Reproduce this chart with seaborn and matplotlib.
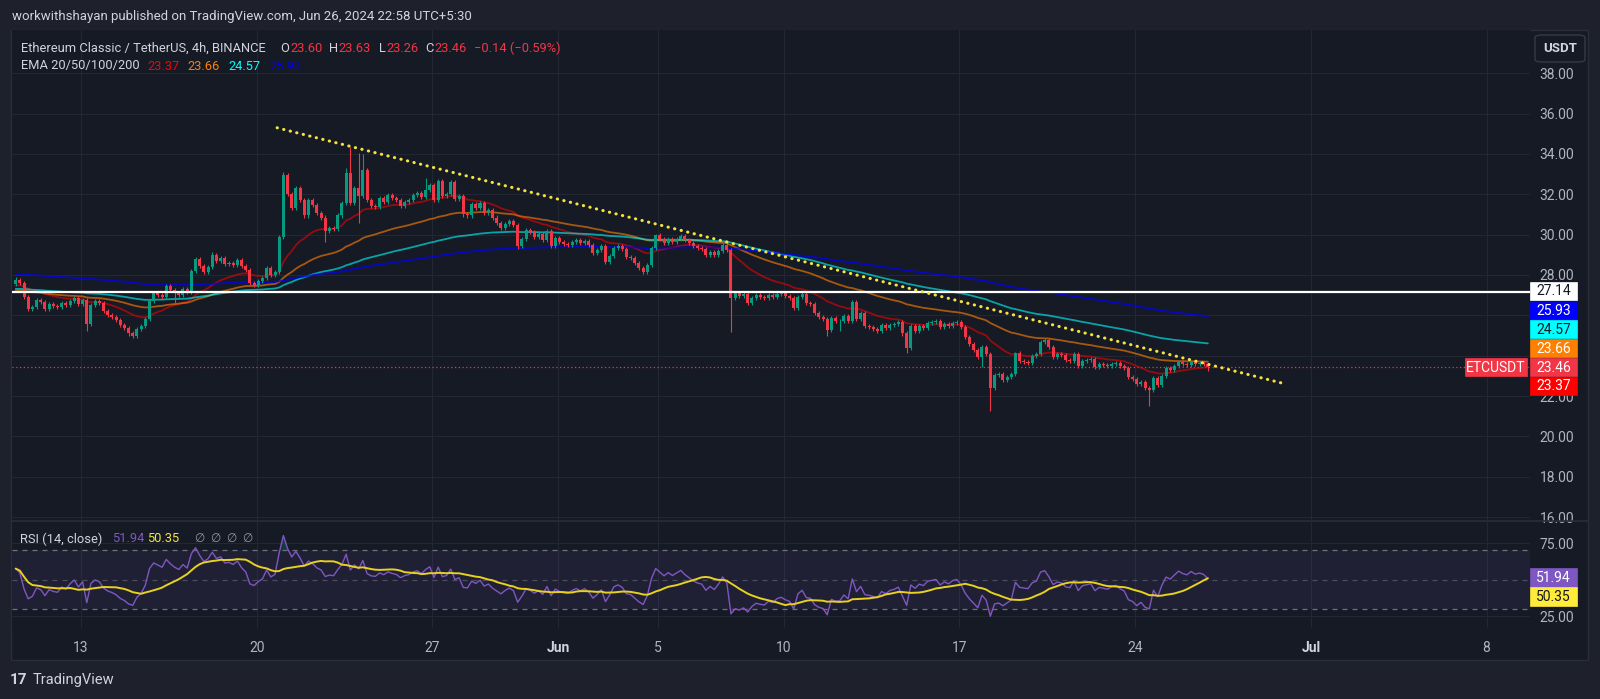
import numpy as np
import pandas as pd
import matplotlib.pyplot as plt
import seaborn as sns
from matplotlib.patches import Rectangle, FancyBboxPatch
from matplotlib.lines import Line2D

# ETC/USDT 4h candles (Binance), time zone UTC+5:30
first_bar = "2024-05-10 09:30"
first_open = 27.55
closes = [
    27.75, 27.6, 26.9, 26.3, 26.4, 26.75, 26.65, 26.3, 26.55, 26.45, 26.4, 26.6,
    26.5, 26.7, 26.85, 26.55, 26.75, 25.55, 26.5, 26.7, 26.6, 26.2, 26.0, 25.9,
    25.75, 25.5, 25.35, 25.1, 25.0, 25.3, 25.45, 25.8, 26.7, 27.1, 27.0, 26.9,
    27.45, 27.25, 27.1, 27.0, 27.3, 27.15, 28.2, 28.8, 28.45, 28.15, 28.4, 29.0,
    28.7, 28.85, 28.55, 28.6, 28.5, 28.75, 28.45, 28.25, 27.6, 27.5, 27.7, 27.85,
    28.35, 28.0, 28.15, 29.9, 32.95, 32.0, 31.3, 32.3, 31.7, 30.95, 31.7, 31.45,
    31.05, 30.85, 30.2, 30.35, 30.3, 30.95, 31.55, 33.05, 31.55, 32.3, 31.9, 33.2,
    31.7, 31.4, 31.35, 31.8, 31.6, 31.95, 31.8, 31.7, 31.4, 31.6, 31.7, 31.95,
    32.05, 31.85, 32.2, 32.45, 31.7, 32.65, 31.9, 32.0, 32.6, 31.75, 31.9, 31.0,
    30.95, 31.5, 31.3, 31.55, 31.05, 31.2, 30.85, 30.6, 30.35, 30.55, 30.7, 30.5,
    29.45, 29.8, 30.25, 30.15, 29.9, 30.05, 29.75, 30.2, 29.45, 29.85, 29.65, 29.55,
    29.5, 29.65, 29.75, 29.6, 29.7, 29.5, 29.1, 29.25, 29.45, 28.65, 28.95, 29.35,
    29.45, 29.3, 28.9, 28.85, 28.6, 28.35, 28.15, 28.5, 29.35, 30.0, 29.8, 29.6,
    29.8, 29.65, 29.8, 29.95, 29.75, 29.6, 29.45, 29.35, 29.3, 29.0, 29.15, 29.0,
    29.2, 29.5, 29.25, 26.85, 27.1, 26.95, 27.05, 26.6, 26.85, 27.0, 26.9, 26.85,
    27.0, 26.9, 27.05, 27.1, 26.95, 26.85, 26.35, 26.9, 27.05, 26.6, 26.55, 26.1,
    25.9, 25.8, 25.25, 25.85, 25.7, 25.72, 25.95, 25.7, 26.65, 25.8, 26.1, 25.45,
    25.4, 25.3, 25.2, 25.5, 25.35, 25.5, 25.55, 25.65, 25.1, 24.4, 25.45, 25.2,
    25.45, 25.35, 25.6, 25.65, 25.7, 25.4, 25.55, 25.45, 25.6, 25.65, 25.4, 24.95,
    24.6, 24.3, 23.95, 24.45, 24.1, 22.4, 23.05, 23.1, 22.8, 22.95, 23.1, 24.15,
    23.75, 23.7, 23.65, 24.0, 24.1, 24.7, 24.8, 24.45, 23.95, 24.1, 24.05, 23.8,
    23.75, 24.1, 23.5, 23.75, 23.8, 23.85, 23.45, 23.6, 23.55, 23.5, 23.6, 23.65,
    23.5, 23.4, 22.95, 22.85, 22.6, 22.7, 22.4, 22.3, 22.9, 22.55, 23.0, 23.4,
    23.3, 23.5, 23.7, 23.6, 23.55, 23.7, 23.6, 23.65, 23.6, 23.46,
]
# notable wick extremes, by candle index
spike_high = {0: 27.9, 42: 28.3, 47: 29.15, 63: 30.0, 64: 33.1, 79: 33.3, 80: 34.35,
              82: 34.05, 83: 34.0, 98: 32.8, 101: 32.75, 104: 32.7, 153: 30.05,
              172: 27.2, 200: 26.75, 214: 25.55, 239: 24.2, 246: 24.9, 285: 23.63}
spike_low = {17: 25.2, 38: 26.6, 74: 29.65, 82: 30.6, 120: 29.3, 171: 25.15, 194: 25.0,
             197: 25.2, 213: 24.15, 231: 23.45, 233: 21.25, 271: 21.5, 285: 23.26}

ema_periods = [20, 50, 100, 200]
ema_start = [27.45, 27.2, 27.3, 28.05]
ema_values = ["23.37", "23.66", "24.57", "25.93"]
ema_colors = ["#ff0000", "#ff7f00", "#00ffff", "#0000ff"]
rsi_start_gain, rsi_start_loss = 0.12, 0.10
rsi_value, rsi_ma_value = "51.94", "50.35"

support_level = 27.14
last_price = 23.46
trend_times = ["2024-05-20 19:30", "2024-06-30 01:00"]
trend_prices = [35.3, 22.58]

day_ticks = ["2024-05-13", "2024-05-20", "2024-05-27", "2024-06-01", "2024-06-05",
             "2024-06-10", "2024-06-17", "2024-06-24", "2024-07-01", "2024-07-08"]
day_labels = ["13", "20", "27", "Jun", "5", "10", "17", "24", "Jul", "8"]
price_ticks = list(range(16, 40, 2))
hidden_ticks = [24, 26]  # covered by the value labels on the scale

# ---- derived series ----
base = pd.Timestamp("2024-05-13")
def to_days(t):
    return (pd.to_datetime(t) - base) / pd.Timedelta(days=1)

c = np.array(closes)
o = np.r_[first_open, c[:-1]]
times = pd.date_range(first_bar, periods=len(c), freq="4h")
days = np.asarray(to_days(times))
hi = np.maximum(o, c) + 0.1
lo = np.minimum(o, c) - 0.1
for k, v in spike_high.items():
    hi[k] = v
for k, v in spike_low.items():
    lo[k] = v

emas = []
for n, seed in zip(ema_periods, ema_start):
    a = 2 / (n + 1)
    e, out = seed, []
    for v in c:
        e = e + a * (v - e)
        out.append(e)
    emas.append(np.array(out))

diff = c - o
ag, al, rsi = rsi_start_gain, rsi_start_loss, []
for d in diff:
    ag = (ag * 13 + max(d, 0)) / 14
    al = (al * 13 + max(-d, 0)) / 14
    rsi.append(100 - 100 / (1 + ag / al))
rsi = np.array(rsi)
rsi_ma = pd.Series(rsi).rolling(14, min_periods=1).mean().to_numpy()

# ---- styling ----
W, H = 1600, 699
OUTER, INNER, BORDER, GRID = "#1e212c", "#161a25", "#2a2e39", "#232733"
TXT, AXT = "#d1d4dc", "#b2b5be"
UP, DOWN = "#089981", "#f23645"

sns.set_theme(style="dark")
plt.rcParams["font.family"] = ["Roboto", "DejaVu Sans"]

def fx(px):
    return px / W

def fy(py):
    return 1 - py / H

fig = plt.figure(figsize=(16, 6.99), dpi=100, facecolor=OUTER)
fig.add_artist(Rectangle((fx(11), fy(660)), (1588 - 11) / W, (660 - 30) / H,
                         transform=fig.transFigure, facecolor=INNER,
                         edgecolor=BORDER, lw=1, zorder=-5))

ax = fig.add_axes([fx(12), fy(520), (1530 - 12) / W, (520 - 30) / H])
ax2 = fig.add_axes([fx(12), fy(628), (1530 - 12) / W, (628 - 521) / H])
xmin, xmax = -2.75, 57.73
tick_days = to_days(day_ticks)

for a_ in (ax, ax2):
    a_.set_facecolor(INNER)
    for s in a_.spines.values():
        s.set_visible(False)
    a_.set_xlim(xmin, xmax)
    a_.set_xticks(tick_days)
    a_.grid(True, color=GRID, lw=0.8)
    a_.yaxis.tick_right()
    a_.tick_params(axis="both", length=0, labelcolor=AXT, labelsize=10)
    a_.tick_params(axis="y", pad=7)

# main pane
ax.set_ylim(15.853, 40.147)
ax.set_yticks(price_ticks)
ax.set_yticklabels(["" if v in hidden_ticks else f"{v:.2f}" for v in price_ticks])
ax.set_xticklabels([])
ax.set_xlabel("")

for e, col, al_ in zip(emas, ema_colors, [0.55, 0.62, 0.6, 0.72]):
    sns.lineplot(x=days, y=e, ax=ax, color=col, lw=1.3, alpha=al_, zorder=2)

cols = np.where(c >= o, UP, DOWN)
ax.vlines(days, lo, hi, colors=cols, lw=0.8, zorder=3)
body = np.maximum(np.abs(c - o), 0.03)
ax.bar(days, body, bottom=np.minimum(o, c), width=0.12, color=cols, lw=0, zorder=4)

ax.axhline(support_level, color="white", lw=1.6, zorder=5)
ax.axhline(last_price, color=DOWN, lw=0.9, ls=(0, (1, 2)), zorder=1)
sns.lineplot(x=to_days(trend_times), y=trend_prices, ax=ax, color="#f5e43d",
             lw=2.2, zorder=6, dash_capstyle="round")
ax.lines[-1].set_linestyle((0, (0.1, 2.1)))
ax.set_ylabel("")

# RSI pane
ax2.set_ylim(16.8, 90.1)
ax2.set_yticks([25, 75])
ax2.set_yticklabels(["25.00", "75.00"])
ax2.set_xticklabels(day_labels)
ax2.tick_params(axis="x", pad=9)
for lab in ax2.get_xticklabels():
    if lab.get_text() in ("Jun", "Jul"):
        lab.set_color(TXT)
        lab.set_fontweight("bold")
ax2.axhspan(30, 70, color="#7e57c2", alpha=0.1, lw=0)
for lvl, a_ in ((70, 0.9), (50, 0.5), (30, 0.9)):
    ax2.axhline(lvl, color="#787b86", lw=0.9, ls=(0, (4, 4)), alpha=a_)
ax2.fill_between(days, 70, rsi, where=rsi > 70, color=UP, alpha=0.25, lw=0,
                 interpolate=True)
ax2.fill_between(days, 30, rsi, where=rsi < 30, color=DOWN, alpha=0.2, lw=0,
                 interpolate=True)
sns.lineplot(x=days, y=rsi, ax=ax2, color="#7e57c2", lw=1.0, zorder=3)
sns.lineplot(x=days, y=rsi_ma, ax=ax2, color="#e9d21f", lw=1.4, zorder=4)
ax2.set_ylabel("")

fig.add_artist(Line2D([fx(11), fx(1588)], [fy(520.5)] * 2, color=BORDER, lw=1.2,
                      transform=fig.transFigure))

# ---- texts ----
def ftext(x, y, s, color=TXT, size=9.3, **kw):
    fig.text(fx(x), fy(y), s, color=color, fontsize=size, va="center", **kw)

ftext(11.5, 16.5, "workwithshayan published on TradingView.com, Jun 26, 2024 22:58 UTC+5:30",
      size=9.5)
ftext(21, 48, "Ethereum Classic / TetherUS, 4h, BINANCE")
for x, s, col in [(280.5, "O", TXT), (290, "23.60", DOWN), (329, "H", TXT), (338.5, "23.63", DOWN),
                  (379, "L", TXT), (386.5, "23.26", DOWN), (425.5, "C", TXT), (434.5, "23.46", DOWN),
                  (474.5, "\u22120.14 (\u22120.59%)", DOWN)]:
    ftext(x, 48, s, col)
ftext(21, 66, "EMA 20/50/100/200")
for x, s, col in zip([147, 187.5, 228.5, 269], ema_values, ema_colors):
    ftext(x, 66, s, col)
ftext(20, 539, "RSI (14, close)")
ftext(112, 539, rsi_value, "#7e57c2")
ftext(147, 539, rsi_ma_value, "#f5e43d")
ftext(195, 539, "\u2205  \u2205  \u2205  \u2205", "#9598a1", size=8.5)
ftext(10, 680, "17", "#d1d4dc", size=11, fontweight="bold")
ftext(33, 680, "TradingView", "#d1d4dc", size=10.5)

# price scale labels
def box(x0, y0, x1, y1, face, s, tcol):
    fig.add_artist(Rectangle((fx(x0), fy(y1)), (x1 - x0) / W, (y1 - y0) / H,
                             transform=fig.transFigure, facecolor=face, edgecolor=face,
                             lw=0.5, zorder=10))
    fig.text(fx((x0 + x1) / 2), fy((y0 + y1) / 2 + 0.5), s, color=tcol, fontsize=10,
             ha="center", va="center", zorder=11)

box(1530, 282, 1577, 300, "#ffffff", f"{support_level:.2f}", "#131722")
box(1530, 302, 1577, 320, ema_colors[3], ema_values[3], "white")
box(1530, 320, 1577, 338, ema_colors[2], ema_values[2], "#131722")
box(1530, 339, 1577, 357, ema_colors[1], ema_values[1], "white")
box(1530, 358, 1577, 376, DOWN, f"{last_price:.2f}", "white")
box(1465, 358, 1527, 376, DOWN, "ETCUSDT", "white")
box(1530, 377, 1577, 395, ema_colors[0], ema_values[0], "white")
box(1530, 568, 1577, 587, "#7e57c2", rsi_value, "white")
box(1530, 587, 1577, 606, "#ffeb3b", rsi_ma_value, "#131722")

fig.add_artist(FancyBboxPatch((fx(1535), fy(62)), (1585 - 1535) / W, (62 - 35) / H,
                              boxstyle="round,pad=0,rounding_size=0.004",
                              transform=fig.transFigure, facecolor=INNER,
                              edgecolor="#363a45", lw=1, zorder=10))
fig.text(fx(1560), fy(48.5), "USDT", color=TXT, fontsize=9.5, fontweight="bold",
         ha="center", va="center", zorder=11)

fig.savefig("out.png", dpi=100, facecolor=OUTER)
